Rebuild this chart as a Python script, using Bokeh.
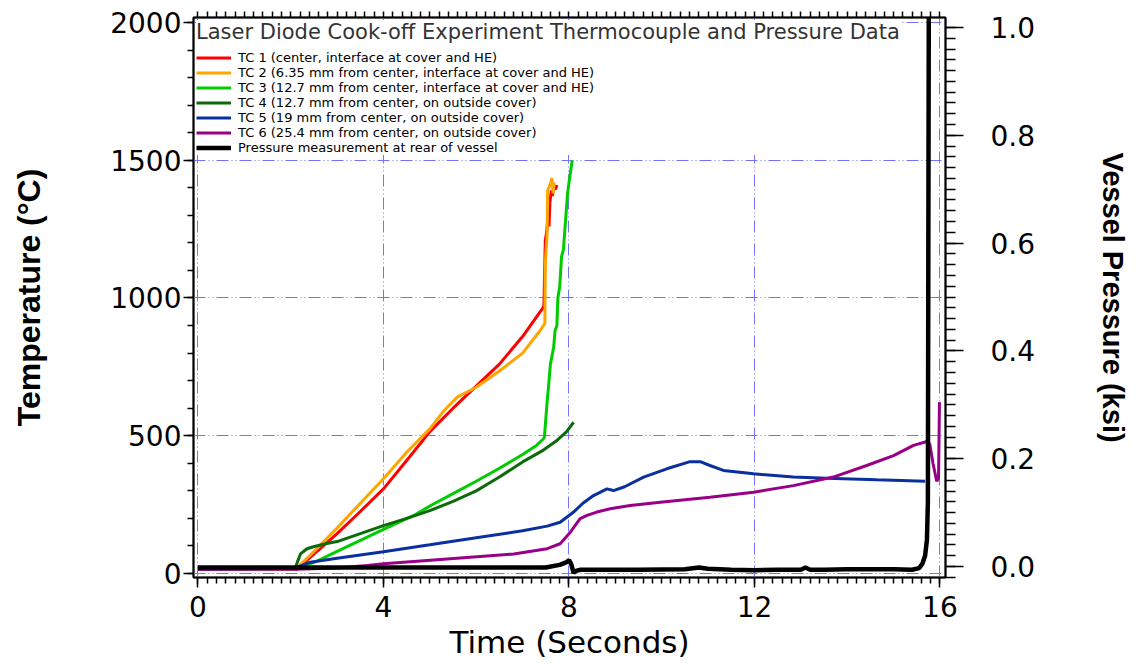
from bokeh.plotting import figure
from bokeh.models import Range1d, LinearAxis, SingleIntervalTicker, FixedTicker, Legend, LegendItem, PrintfTickFormatter
from bokeh.embed import file_html
from bokeh.resources import INLINE

# ---------------- data ----------------
tc1_t = [0, 2.12, 2.5, 3.0, 3.5, 4.0, 4.5, 5.0, 5.5, 6.0, 6.5, 7.0, 7.45, 7.46, 7.49, 7.52, 7.55, 7.57, 7.59, 7.62, 7.64, 7.67, 7.71, 7.74]
tc1_v = [15, 15, 70, 145, 225, 307, 410, 515, 600, 680, 760, 860, 967, 975, 1210, 1240, 1300, 1260, 1350, 1390, 1370, 1400, 1395, 1410]

tc2_t = [0, 2.1, 2.5, 3.0, 3.5, 4.0, 4.5, 5.0, 5.3, 5.59, 6.0, 6.5, 7.0, 7.38, 7.47, 7.48, 7.49, 7.53, 7.54, 7.60, 7.63, 7.66, 7.68]
tc2_v = [15, 15, 80, 165, 255, 344, 440, 525, 590, 640, 676, 735, 800, 882, 905, 905, 1125, 1234, 1390, 1415, 1435, 1380, 1420]

tc3_t = [0, 2.1, 2.5, 3.0, 3.5, 4.0, 4.7, 5.0, 5.5, 6.0, 6.5, 7.0, 7.3, 7.45, 7.47, 7.5, 7.53, 7.56, 7.6, 7.67, 7.7, 7.74, 7.76, 7.8, 7.84, 7.88, 7.93, 7.97, 8.01, 8.07]
tc3_v = [15, 18, 40, 80, 120, 160, 215, 245, 290, 335, 382, 432, 465, 489, 495, 560, 625, 680, 760, 821, 882, 900, 1000, 1040, 1150, 1175, 1290, 1380, 1430, 1500]

tc4_t = [0, 2.1, 2.15, 2.21, 2.35, 2.49, 2.75, 3.0, 3.5, 4.0, 4.5, 5.0, 5.5, 6.0, 6.5, 7.0, 7.45, 7.74, 7.95, 8.1]
tc4_v = [15, 20, 45, 71, 90, 97, 108, 116, 145, 174, 200, 228, 262, 300, 350, 405, 448, 483, 515, 549]

tc5_t = [0, 2.1, 2.42, 3.0, 4.0, 5.0, 6.0, 7.0, 7.53, 7.81, 8.1, 8.3, 8.53, 8.82, 8.96, 9.2, 9.61, 10.11, 10.61, 10.83, 11.04, 11.33, 11.98, 12.84, 13.56, 14.64, 15.68]
tc5_v = [15, 20, 41, 55, 79, 104, 130, 155, 172, 186, 223, 255, 283, 307, 301, 315, 350, 380, 406, 406, 392, 374, 362, 350, 346, 340, 335]

tc6_t = [0, 2.1, 3.0, 3.65, 4.0, 5.37, 6.81, 7.53, 7.81, 8.03, 8.24, 8.39, 8.6, 8.89, 9.32, 9.97, 11.04, 11.98, 12.84, 13.7, 14.42, 15.0, 15.43, 15.72, 15.78, 15.85, 15.93, 15.97, 15.99]
tc6_v = [15, 15, 20, 29, 35, 53, 71, 90, 108, 150, 199, 211, 223, 235, 247, 259, 277, 295, 319, 350, 392, 428, 465, 479, 470, 400, 335, 345, 622]

pr_t = [0, 7.5, 7.8, 7.95, 8.0, 8.05, 8.1, 8.15, 8.25, 8.5, 9.5, 10.5, 10.8, 11.0, 11.5, 12.0, 12.5, 13.0, 13.1, 13.2, 13.5, 14.0, 14.5, 15.0, 15.4, 15.55, 15.62, 15.68, 15.72, 15.74, 15.76]
pr_v = [-0.002, -0.002, 0.003, 0.008, 0.012, 0.004, -0.012, -0.008, -0.006, -0.006, -0.006, -0.005, -0.002, -0.004, -0.006, -0.007, -0.006, -0.006, -0.002, -0.006, -0.006, -0.005, -0.005, -0.005, -0.006, -0.003, 0.005, 0.02, 0.05, 0.12, 1.05]

labels = [
    "TC 1 (center, interface at cover and HE)",
    "TC 2 (6.35 mm from center, interface at cover and HE)",
    "TC 3 (12.7 mm from center, interface at cover and HE)",
    "TC 4 (12.7 mm from center, on outside cover)",
    "TC 5 (19 mm from center, on outside cover)",
    "TC 6 (25.4 mm from center, on outside cover)",
    "Pressure measurement at rear of vessel",
]
colors = ["#ff0000", "#ffa500", "#00cc00", "#0b6b0b", "#0a2f9e", "#990088", "#000000"]
title_text = "Laser Diode Cook-off Experiment Thermocouple and Pressure Data"

# ---------------- figure ----------------
p = figure(frame_width=752, frame_height=560,
           x_range=Range1d(-0.097, 16.12), y_range=Range1d(-14.5, 2018),
           output_backend="svg", toolbar_location=None,
           min_border_left=193, min_border_right=189, min_border_top=17, min_border_bottom=91)
p.extra_y_ranges = {"p": Range1d(-0.0204, 1.0186)}
p.background_fill_color = "white"
p.outline_line_color = "black"
p.outline_line_width = 2

xax = p.xaxis[0]
yax = p.yaxis[0]
xax.ticker = SingleIntervalTicker(interval=4, num_minor_ticks=20)
yax.ticker = SingleIntervalTicker(interval=500, num_minor_ticks=5)

tick_font = "DejaVu Sans"
lab_font = "Liberation Sans"

rax = LinearAxis(y_range_name="p", ticker=SingleIntervalTicker(interval=0.2, num_minor_ticks=10),
                 formatter=PrintfTickFormatter(format="%.1f"))
p.add_layout(rax, "right")

for ax in (xax, yax, rax):
    ax.major_label_text_font = tick_font
    ax.major_label_text_font_size = "28px"
    ax.major_label_text_color = "black"
    ax.axis_label_text_color = "black"
    ax.axis_line_color = "black"
    ax.axis_line_width = 1.5
    ax.major_tick_line_color = "black"
    ax.minor_tick_line_color = "black"
    ax.major_tick_line_width = 1.5
    ax.minor_tick_line_width = 1.5
    ax.major_tick_in = 0
    ax.minor_tick_in = 0
    ax.major_tick_out = 10
    ax.minor_tick_out = 6

xax.axis_label = "Time (Seconds)"
xax.axis_label_text_font = tick_font
xax.axis_label_text_font_style = "normal"
xax.axis_label_text_font_size = "31px"
xax.axis_label_standoff = 4
xax.major_label_standoff = 8

yax.axis_label = "Temperature (°C)"
yax.axis_label_text_font = lab_font
yax.axis_label_text_font_style = "bold"
yax.axis_label_text_font_size = "32px"
yax.axis_label_standoff = 60
yax.major_label_standoff = 2

rax.major_tick_out = 18
rax.minor_tick_out = 10
rax.major_label_standoff = 27
rax.axis_label = "Vessel Pressure (ksi)"
rax.axis_label_text_font = lab_font
rax.axis_label_text_font_style = "bold"
rax.axis_label_text_font_size = "29px"
rax.axis_label_standoff = 59

top_minor = [i * 0.2 for i in range(81)]
tax = LinearAxis(ticker=FixedTicker(ticks=[], minor_ticks=top_minor))
tax.axis_line_color = "black"
tax.axis_line_width = 1.5
tax.minor_tick_in = 0
tax.minor_tick_out = 6
tax.minor_tick_line_color = "black"
tax.minor_tick_line_width = 1.5
tax.major_label_standoff = 0
p.add_layout(tax, "above")

for g in (p.xgrid[0], p.ygrid[0]):
    g.grid_line_color = "#7373ff"
    g.grid_line_width = 1
    g.grid_line_dash = "12 3 1 3 1 3"

series = [(tc1_t, tc1_v), (tc2_t, tc2_v), (tc3_t, tc3_v), (tc4_t, tc4_v), (tc5_t, tc5_v), (tc6_t, tc6_v)]
renderers = []
for (t, v), c in zip(series, colors[:6]):
    renderers.append(p.line(t, v, line_color=c, line_width=3))
renderers.append(p.line(pr_t, pr_v, line_color=colors[6], line_width=4.5, y_range_name="p"))

legend = Legend(items=[LegendItem(label=l, renderers=[r]) for l, r in zip(labels, renderers)],
                location="top_left", title=title_text)
legend.title_text_font = "DejaVu Sans"
legend.title_text_font_size = "21px"
legend.title_text_font_style = "normal"
legend.title_text_color = "#333333"
legend.title_standoff = 6
legend.label_text_font = "DejaVu Sans"
legend.label_text_font_size = "13px"
legend.label_text_color = "black"
legend.glyph_width = 35
legend.glyph_height = 15
legend.label_height = 15
legend.label_standoff = 7
legend.spacing = 0
legend.padding = 4
legend.margin = 3
legend.border_line_color = None
legend.background_fill_color = "white"
legend.background_fill_alpha = 1
p.add_layout(legend)

open("out.html", "w").write(file_html(p, INLINE))
